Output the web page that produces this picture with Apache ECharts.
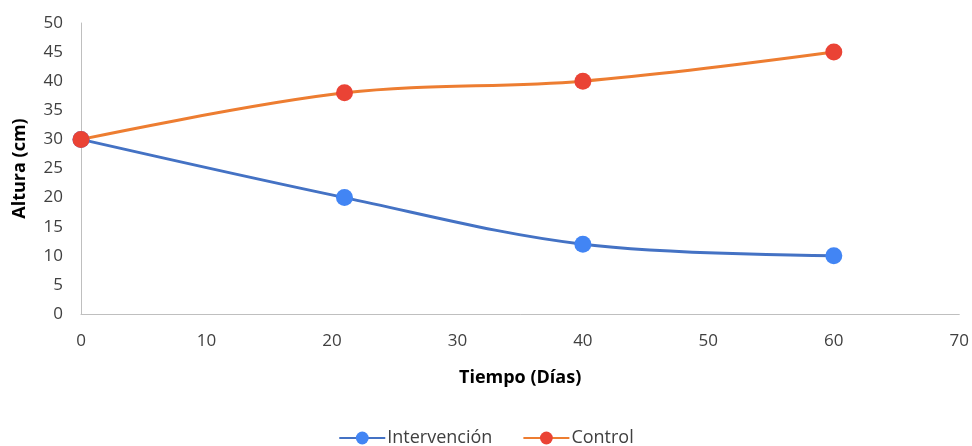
<!DOCTYPE html>
<html><head><meta charset="utf-8">
<script src="https://cdn.jsdelivr.net/npm/echarts@6/dist/echarts.min.js"></script>
<style>html,body{margin:0;padding:0;background:#fff}#c{width:972px;height:446px}</style>
</head><body><div id="c"></div>
<script>
const days = [0, 21, 40, 60];
const intervencion = [30, 20, 12, 10];
const control = [30, 38, 40, 45];
const seriesNames = ['Intervención', 'Control'];
const xTitle = 'Tiempo (Días)';
const yTitle = 'Altura (cm)';

const font = '"Open Sans", "Noto Sans", sans-serif';
const chart = echarts.init(document.getElementById('c'));
const pair = (xs, ys) => xs.map((x, i) => [x, ys[i]]);
chart.setOption({
  animation: false,
  textStyle: {fontFamily: font},
  grid: {left: 81, right: 12, top: 23, bottom: 132},
  legend: {
    top: 424, left: 'center', itemWidth: 46, itemHeight: 16, itemGap: 30,
    textStyle: {fontSize: 18, color: '#404040', fontFamily: font, padding: [0, 0, 0, -3]},
    data: seriesNames
  },
  xAxis: {
    type: 'value', min: 0, max: 70, interval: 10,
    name: xTitle, nameLocation: 'middle', nameGap: 55,
    nameTextStyle: {fontSize: 18, fontWeight: 'bold', color: '#000', fontFamily: font},
    axisLine: {show: true, lineStyle: {color: '#bfbfbf'}},
    axisTick: {show: false},
    splitLine: {show: false},
    axisLabel: {fontSize: 17, color: '#404040', margin: 19}
  },
  yAxis: {
    type: 'value', min: 0, max: 50, interval: 5,
    name: yTitle, nameLocation: 'middle', nameGap: 52,
    nameTextStyle: {fontSize: 18, fontWeight: 'bold', color: '#000', fontFamily: font},
    axisLine: {show: true, lineStyle: {color: '#bfbfbf'}},
    axisTick: {show: false},
    splitLine: {show: false},
    axisLabel: {fontSize: 17, color: '#404040', margin: 18}
  },
  series: [
    {
      name: seriesNames[0], type: 'line', smooth: 0.35,
      data: pair(days, intervencion),
      symbol: 'circle', symbolSize: 17,
      lineStyle: {color: '#4472C4', width: 3},
      itemStyle: {color: '#4285F4'}
    },
    {
      name: seriesNames[1], type: 'line', smooth: 0.35,
      data: pair(days, control),
      symbol: 'circle', symbolSize: 17,
      lineStyle: {color: '#ED7D31', width: 3},
      itemStyle: {color: '#EA4335'}
    }
  ]
});
</script></body></html>
